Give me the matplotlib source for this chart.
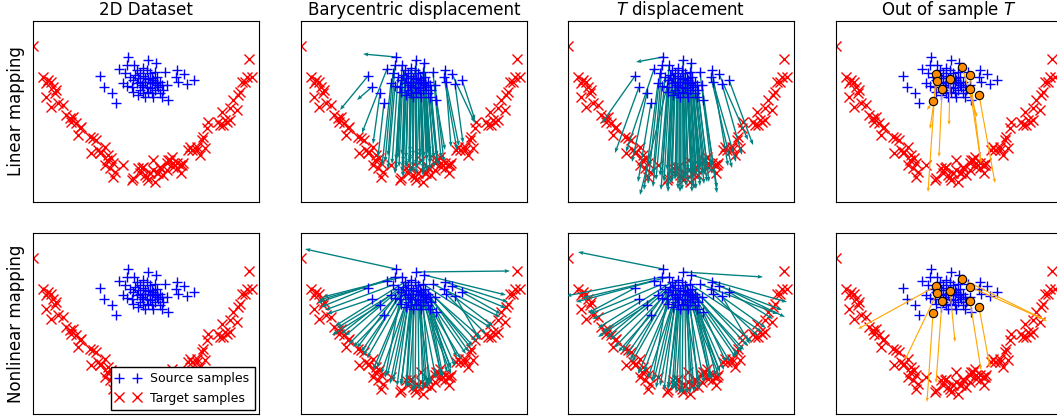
import numpy as np
import matplotlib.pyplot as plt

# source samples (blue +), same in every panel
src_x = [95, 115, 123, 94, 101, 86, 67, 71, 79, 83,
         92, 90, 94, 132, 144, 151, 143, 145, 154, 161,
         135, 129, 112, 100, 110,
         97, 102, 105, 107, 110, 114, 112, 115, 119, 120,
         124, 125, 122, 117, 114, 109, 104, 100, 99, 107,
         129, 130, 127, 119, 124, 117, 104, 110, 122, 134,
         105, 120, 115,
         107, 117, 124, 112, 122, 127, 110, 119]
src_y = [145, 142, 139, 137, 137, 133, 126, 115, 109, 99,
         129, 119, 116, 130, 132, 128, 125, 120, 118, 122,
         102, 105, 105, 110, 109,
         125, 127, 124, 129, 126, 132, 120, 123, 119, 122,
         120, 115, 112, 114, 115, 117, 119, 122, 115, 112,
         117, 112, 109, 109, 125, 129, 132, 134, 130, 117,
         107, 105, 110,
         120, 120, 117, 124, 119, 120, 115, 124]

# target samples (red x)
tgt_x = [0, 10, 15, 13, 18, 20, 23, 22, 13, 18, 25, 30, 33, 37, 40, 38, 43, 47, 45, 48,
         60, 63, 58, 65, 68, 72, 75, 78, 80, 72, 77, 82, 80, 90, 100, 107, 105, 110, 115, 117,
         57, 67, 74, 99, 114, 122, 124, 127, 134, 137, 140, 144, 149, 134, 120, 130,
         216, 219, 212, 207, 205, 200, 204, 197, 189, 192, 187, 194, 175, 174, 170, 169,
         172, 164, 157, 155, 150, 147, 140, 139, 135, 148, 144, 127, 120, 125, 112, 109,
         214, 209, 197, 190, 185, 167, 159, 164]
tgt_y = [156, 125, 122, 119, 120, 115, 112, 109, 105, 95, 99, 97, 87, 84, 85, 80, 79, 74, 67, 75,
         64, 62, 49, 52, 50, 55, 47, 44, 39, 37, 34, 30, 25, 37, 24, 29, 34, 35, 22, 29,
         65, 49, 42, 22, 25, 20, 29, 34, 39, 42, 35, 39, 37, 32, 32, 27,
         143, 125, 120, 110, 107, 102, 92, 94, 90, 82, 77, 80, 80, 74, 65, 62,
         54, 52, 55, 52, 39, 37, 39, 45, 42, 29, 34, 35, 42, 29, 27, 34,
         125, 120, 82, 77, 80, 47, 52, 55]

# end points of the displacement arrows, one per source sample
bary_lin_x = [62, 116, 127, 87, 97, 61, 39, 56, 72, 77, 84, 81, 87, 140, 150, 174, 156, 158, 162, 174,
              144, 136, 112, 95, 109, 91, 98, 102, 105, 109, 115, 112, 116, 122, 123, 129, 130, 126,
              119, 115, 108, 101, 95, 94, 105, 136, 137, 133, 122, 129, 119, 101, 109, 126, 143,
              102, 123, 116, 105, 119, 129, 112, 126, 133, 109, 122]
bary_lin_y = [148, 45, 48, 46, 44, 69, 92, 102, 58, 45, 40, 36, 33, 44, 55, 79, 52, 56, 59, 82,
              52, 40, 30, 32, 28, 38, 35, 40, 34, 42, 37, 35, 40, 33, 45, 38, 42, 30,
              36, 28, 38, 30, 42, 28, 36, 46, 36, 44, 26, 50, 44, 47, 50, 52, 40,
              25, 30, 33, 44, 48, 32, 46, 42, 34, 40, 38]

t_lin_x = [68, 118, 130, 85, 94, 58, 34, 47, 64, 70, 80, 76, 85, 144, 160, 180, 164, 168, 174, 185,
           149, 139, 112, 93, 110, 88, 96, 101, 103, 108, 116, 112, 117, 124, 126, 132, 134, 128,
           120, 114, 107, 99, 92, 72, 104, 140, 141, 137, 124, 132, 120, 99, 108, 128, 149,
           100, 126, 118, 103, 120, 132, 112, 128, 136, 108, 124]
t_lin_y = [140, 25, 30, 28, 26, 50, 79, 49, 40, 20, 18, 12, 15, 28, 36, 62, 34, 40, 47, 57,
           14, 20, 10, 12, 13, 22, 20, 24, 18, 26, 22, 18, 24, 16, 28, 20, 26, 13,
           20, 12, 22, 14, 26, 7, 20, 30, 20, 27, 10, 34, 28, 32, 34, 36, 9,
           10, 13, 16, 28, 32, 16, 30, 26, 18, 24, 22]

bary_nl_x = [4, 209, 205, 16, 22, 18, 20, 26, 31, 52, 24, 36, 48, 199, 207, 205, 192, 185, 179, 200,
             156, 142, 112, 72, 105, 40, 56, 66, 60, 80, 150, 100, 130, 135, 160, 165, 150, 128,
             118, 108, 92, 76, 62, 84, 96, 170, 146, 140, 122, 180, 172, 34, 44, 190, 176,
             89, 126, 114, 86, 124, 154, 106, 140, 168, 100, 150]
bary_nl_y = [165, 143, 119, 111, 117, 114, 107, 100, 79, 67, 104, 86, 70, 97, 112, 106, 88, 80, 74, 100,
             57, 37, 22, 44, 27, 80, 66, 56, 62, 40, 40, 30, 30, 35, 55, 60, 45, 28,
             24, 26, 32, 46, 58, 36, 28, 66, 42, 38, 24, 76, 68, 88, 78, 86, 72,
             30, 26, 24, 38, 32, 48, 30, 40, 62, 28, 46]

t_nl_x = [10, 195, 219, -2, 14, 8, 20, 24, 30, 50, 22, 34, 46, 210, 217, 214, 198, 190, 182, 205,
          158, 144, 112, 70, 104, 38, 54, 64, 58, 80, 152, 100, 132, 136, 162, 168, 152, 130,
          118, 108, 92, 76, 62, 84, 96, 174, 148, 142, 122, 184, 176, 30, 42, 194, 180,
          88, 126, 114, 86, 124, 156, 106, 142, 170, 100, 152]
t_nl_y = [162, 137, 112, 118, 116, 112, 101, 95, 77, 62, 100, 82, 66, 100, 97, 104, 86, 78, 70, 95,
          52, 34, 20, 40, 24, 76, 62, 52, 58, 36, 36, 27, 27, 31, 52, 56, 42, 24,
          20, 22, 28, 42, 54, 32, 24, 62, 38, 34, 20, 72, 64, 86, 74, 82, 68,
          26, 22, 20, 34, 28, 44, 26, 36, 58, 24, 42]

# out of sample points (orange) and their images
new_x = [126, 100, 134, 114, 101, 106, 134, 143, 97]
new_y = [135, 128, 127, 123, 121, 113, 113, 107, 101]
new_lin_x = [141, 92, 145, 113, 94, 103, 145, 159, 91]
new_lin_y = [85, 10, 39, 77, 73, 45, 39, 19, 92]
new_nl_x = [211, 22, 207, 119, 69, 100, 145, 154, 91]
new_nl_y = [93, 85, 95, 72, 54, 31, 44, 46, 12]

col_titles = ['2D Dataset', 'Barycentric displacement', r'$T$ displacement', r'Out of sample $T$']
row_labels = ['Linear mapping', 'Nonlinear mapping']

W, H = 1057, 419
fig = plt.figure(figsize=(W / 100, H / 100), dpi=100)
lefts = [33, 301, 568, 836]
tops = [21, 233]
aw, ah = 226, 181

sx, sy = np.array(src_x), np.array(src_y)
nx, ny = np.array(new_x), np.array(new_y)
disp = {
    (0, 1): (bary_lin_x, bary_lin_y), (0, 2): (t_lin_x, t_lin_y),
    (1, 1): (bary_nl_x, bary_nl_y), (1, 2): (t_nl_x, t_nl_y),
}
oos = {0: (new_lin_x, new_lin_y), 1: (new_nl_x, new_nl_y)}

for r in range(2):
    for c in range(4):
        ax = fig.add_axes([lefts[c] / W, (H - tops[r] - ah) / H, aw / W, ah / H])
        ax.plot(tgt_x, tgt_y, 'x', color='r', ms=7, mew=1, label='Target samples')
        if (r, c) in disp:
            ex, ey = disp[(r, c)]
            ax.quiver(sx, sy, np.array(ex) - sx, np.array(ey) - sy, angles='xy',
                      scale_units='xy', scale=1, color='teal', width=0.006,
                      headwidth=3, headlength=4, headaxislength=3.5, zorder=3)
        ax.plot(src_x, src_y, '+', color='b', ms=7, mew=1, label='Source samples', zorder=4)
        if c == 3:
            ex, ey = oos[r]
            ax.quiver(nx, ny, np.array(ex) - nx, np.array(ey) - ny, angles='xy',
                      scale_units='xy', scale=1, color='orange', width=0.005,
                      headwidth=3, headlength=4, headaxislength=3.5, zorder=5)
            ax.plot(new_x, new_y, 'o', color='darkorange', mec='k', ms=6, mew=0.8, zorder=6)
        ax.set_xlim(0, aw)
        ax.set_ylim(0, ah)
        ax.set_xticks([])
        ax.set_yticks([])
        if r == 0:
            ax.set_title(col_titles[c], fontsize=12, pad=4)
        if c == 0:
            ax.set_ylabel(row_labels[r], fontsize=12, labelpad=6)
        if r == 1 and c == 0:
            h, l = ax.get_legend_handles_labels()
            ax.legend(h[::-1], l[::-1], loc='lower right', numpoints=2, fontsize=9,
                      fancybox=False, edgecolor='k', framealpha=1, borderaxespad=0.35)

fig.savefig('out.png', dpi=100)
